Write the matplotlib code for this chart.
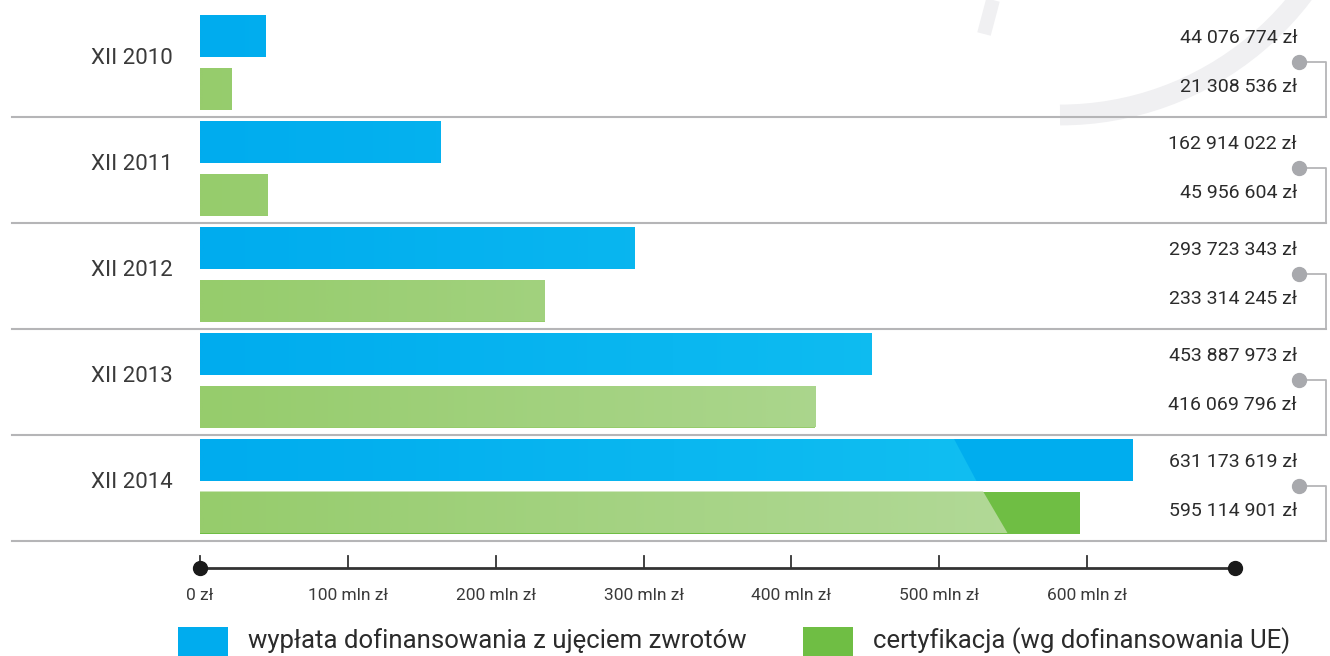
import numpy as np
import matplotlib.pyplot as plt
from matplotlib.colors import LinearSegmentedColormap
from matplotlib.patches import Polygon, Rectangle, Arc

plt.rcParams['font.family'] = ['Roboto', 'DejaVu Sans']

# dane (mln zł)
okresy = ['XII 2010', 'XII 2011', 'XII 2012', 'XII 2013', 'XII 2014']
wyplata = [44.076774, 162.914022, 293.723343, 453.887973, 631.173619]
certyfikacja = [21.308536, 45.956604, 233.314245, 416.069796, 595.114901]
wyplata_txt = ['44 076 774 zł', '162 914 022 zł', '293 723 343 zł', '453 887 973 zł', '631 173 619 zł']
cert_txt = ['21 308 536 zł', '45 956 604 zł', '233 314 245 zł', '416 069 796 zł', '595 114 901 zł']
ticks = [0, 100, 200, 300, 400, 500, 600]
tick_labels = ['0 zł', '100 mln zł', '200 mln zł', '300 mln zł', '400 mln zł', '500 mln zł', '600 mln zł']
os_max = 700
legenda = ['wypłata dofinansowania z ujęciem zwrotów', 'certyfikacja (wg dofinansowania UE)']

# kolory
niebieski = ('#00acee', '#14c2f2', '#00adee')   # start, koniec gradientu, końcówka
zielony = ('#96cc6c', '#b6db9e', '#6fbe44')
szary = '#b5b5b7'
tekst = '#2b2b2b'

W, H = 1330, 656
px_per_mln = (1235 - 200) / os_max
fig = plt.figure(figsize=(W / 100, H / 100), dpi=100)
ax = fig.add_axes([0, 0, 1, 1])
ax.set_xlim(-200 / px_per_mln, (W - 200) / px_per_mln)
ax.set_ylim(H, 0)
ax.axis('off')

def px(x):
    # piksele -> jednostki osi x
    return (x - 200) / px_per_mln

# znak wodny w tle
ax.add_patch(Arc((px(1060), -190), 2 * 305 / px_per_mln, 2 * 305, theta1=15, theta2=90,
                 color='#f0f0f2', lw=15, zorder=0))
ax.plot([px(993), px(984)], [0, 34], color='#f0f0f2', lw=10, solid_capstyle='butt', zorder=0)

krok = 106
gmax = 640

def bar_gradient(wart, yc, h, kol, ostatni, ciecie):
    top, bot = yc - h / 2, yc + h / 2
    bar = ax.barh(yc, wart, height=h, left=0, color=kol[2] if ostatni else kol[0],
                  linewidth=0, zorder=2)[0]
    cmap = LinearSegmentedColormap.from_list('g', [kol[0], kol[1]])
    if ostatni:
        c_top, c_bot = wart * ciecie[0], wart * ciecie[1]
        clip = Polygon([(0, top), (c_top, top), (c_bot, bot), (0, bot)], closed=True,
                       transform=ax.transData)
        koniec = c_bot
    else:
        clip = bar
        koniec = wart
    grad = np.linspace(0, koniec, 300)[None, :]
    im = ax.imshow(grad, cmap=cmap, vmin=0, vmax=gmax, extent=[0, koniec, bot, top],
                   aspect='auto', zorder=3, interpolation='bilinear')
    im.set_clip_path(clip)

for i, okres in enumerate(okresy):
    g0 = 11 + i * krok
    ostatni = i == len(okresy) - 1
    bar_gradient(wyplata[i], g0 + 25, 42, niebieski, ostatni, (0.808, 0.832))
    bar_gradient(certyfikacja[i], g0 + 77.5, 42, zielony, ostatni, (0.89, 0.918))

    ax.text(px(132), g0 + 48, okres, ha='center', va='center', fontsize=16,
            color='#3a3a3a')
    ax.text(px(1297), g0 + 27, wyplata_txt[i], ha='right', va='center', fontsize=14,
            color=tekst)
    ax.text(px(1297), g0 + 76, cert_txt[i], ha='right', va='center', fontsize=14,
            color=tekst)

    # separator i łącznik
    ax.plot([px(12), px(1326)], [g0 + krok, g0 + krok], color=szary, lw=1.5, zorder=1)
    ax.plot([px(1299), px(1326), px(1326)], [g0 + 51, g0 + 51, g0 + krok],
            color=szary, lw=1.3, zorder=1)
    ax.plot(px(1299), g0 + 51, 'o', ms=10, color='#a8a9ad', zorder=4)

# oś
y_os = 568
ax.plot([0, os_max], [y_os, y_os], color='#333333', lw=2, zorder=2)
ax.plot([0, os_max], [y_os, y_os], 'o', ms=10, color='#1a1a1a', zorder=3)
for t, lab in zip(ticks, tick_labels):
    ax.plot([t, t], [y_os, y_os - 12], color='#333333', lw=1.3, zorder=2)
    ax.text(t, 596, lab, ha='center', va='center', fontsize=12.5, color='#3a3a3a')

# legenda
ax.add_patch(Rectangle((px(178), 627), 50 / px_per_mln, 40, color=niebieski[0], lw=0))
ax.text(px(248), 641, legenda[0], ha='left', va='center', fontsize=18.5, color=tekst)
ax.add_patch(Rectangle((px(803), 627), 50 / px_per_mln, 40, color=zielony[2], lw=0))
ax.text(px(873), 641, legenda[1], ha='left', va='center', fontsize=18.5, color=tekst)

fig.savefig('out.png', dpi=100)
